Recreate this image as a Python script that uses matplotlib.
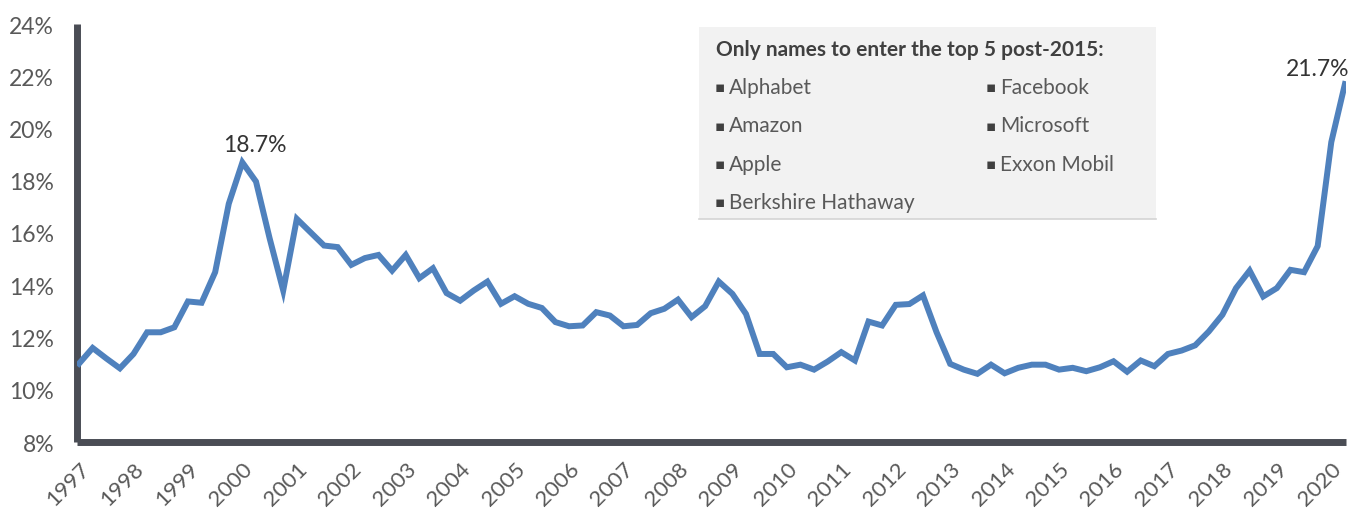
import matplotlib
matplotlib.use('Agg')
import matplotlib.pyplot as plt
from matplotlib.patches import Rectangle
from matplotlib.lines import Line2D

W, H = 1359, 510

# quarterly weight of the top 5 names, 1997 Q1 .. 2020 Q2 (%)
SHARE = [
    11.0, 11.6, 11.2, 10.82, 11.37, 12.2, 12.2, 12.39,
    13.38, 13.33, 14.5, 17.12, 18.7, 17.97, 15.8, 13.8,
    16.54, 16.03, 15.52, 15.46, 14.78, 15.04, 15.16, 14.56,
    15.16, 14.27, 14.65, 13.70, 13.41, 13.80, 14.14, 13.29,
    13.58, 13.29, 13.13, 12.59, 12.43, 12.46, 12.97, 12.84,
    12.43, 12.48, 12.93, 13.10, 13.45, 12.78, 13.20, 14.14,
    13.67, 12.90, 11.37, 11.37, 10.86, 10.96, 10.77, 11.08,
    11.44, 11.12, 12.61, 12.46, 13.25, 13.28, 13.61, 12.2,
    10.99, 10.77, 10.61, 10.96, 10.63, 10.84, 10.96, 10.96,
    10.77, 10.84, 10.71, 10.86, 11.09, 10.69, 11.12, 10.90,
    11.37, 11.50, 11.70, 12.23, 12.87, 13.89, 14.56, 13.57,
    13.89, 14.59, 14.50, 15.50, 19.48, 21.7,
]
YEARS = [str(y) for y in range(1997, 2021)]
Y_TICKS = [8, 10, 12, 14, 16, 18, 20, 22, 24]

PEAK_2000 = 12    # index of 2000 Q1
LAST = len(SHARE) - 1

BOX_TITLE = 'Only names to enter the top 5 post-2015:'
LEFT_NAMES = ['Alphabet', 'Amazon', 'Apple', 'Berkshire Hathaway']
RIGHT_NAMES = ['Facebook', 'Microsoft', 'Exxon Mobil']

LINE_COLOR = '#4f81bd'
AXIS_COLOR = '#4a4d55'
TEXT_COLOR = '#595959'
FONT = ['Lato', 'DejaVu Sans']

plt.rcParams['font.family'] = FONT


def fx(x):
    return x / W


def fy(y):
    return 1 - y / H


fig = plt.figure(figsize=(W / 100, H / 100), dpi=100)
ax = fig.add_axes([fx(77), fy(443), fx(1346) - fx(77), fy(25) - fy(443)])

x = list(range(len(SHARE)))
ax.plot(x, SHARE, color=LINE_COLOR, lw=4.3, solid_joinstyle='miter', zorder=3)

ax.set_xlim(-0.15, LAST + 0.08)
ax.set_ylim(Y_TICKS[0], Y_TICKS[-1])

ax.set_yticks(Y_TICKS)
ax.set_yticklabels([f'{t}%' for t in Y_TICKS])
ax.set_xticks(range(0, len(SHARE), 4))
ax.set_xticklabels(YEARS)

for side in ('top', 'right'):
    ax.spines[side].set_visible(False)
for side in ('left', 'bottom'):
    ax.spines[side].set_color(AXIS_COLOR)
    ax.spines[side].set_linewidth(5)
    ax.spines[side].set_capstyle('butt')

ax.tick_params(axis='both', length=0, labelcolor=TEXT_COLOR)
ax.tick_params(axis='y', pad=16.5, labelsize=16.5)
ax.tick_params(axis='x', pad=12, labelsize=16)
plt.setp(ax.get_xticklabels(), rotation=45, ha='right', va='top',
         rotation_mode='anchor')

# value callouts
ax.annotate(f'{SHARE[PEAK_2000]:.1f}%', (PEAK_2000, SHARE[PEAK_2000]),
            xytext=(9, 8), textcoords='offset points', ha='center',
            va='baseline', fontsize=16.5, color='#333333')
ax.annotate(f'{SHARE[LAST]:.1f}%', (LAST, SHARE[LAST]),
            xytext=(3, 6.5), textcoords='offset points', ha='right',
            va='baseline', fontsize=16.5, color='#333333')

# side box listing the newcomers
fig.add_artist(Rectangle((fx(699), fy(220)), fx(1156) - fx(699), fy(28) - fy(220),
                         transform=fig.transFigure, facecolor='#f2f2f2',
                         edgecolor='none', zorder=1))
fig.add_artist(Line2D([fx(699), fx(1156)], [fy(220), fy(220)],
                      transform=fig.transFigure, color='#d4d4d4', lw=1.2))

fig.text(fx(716), fy(56), BOX_TITLE, fontsize=15, fontweight='bold',
         color='#404040', va='baseline')


def bullet_list(names, x_bullet, x_text):
    for i, name in enumerate(names):
        base = 94 + i * 38.3
        fig.text(fx(x_bullet), fy(base - 6), '\u25aa', fontsize=11,
                 family='DejaVu Sans', color='#404040', va='center')
        fig.text(fx(x_text), fy(base), name, fontsize=15,
                 color=TEXT_COLOR, va='baseline')


bullet_list(LEFT_NAMES, 715, 729)
bullet_list(RIGHT_NAMES, 986, 1000)

fig.savefig('out.png', dpi=100)
